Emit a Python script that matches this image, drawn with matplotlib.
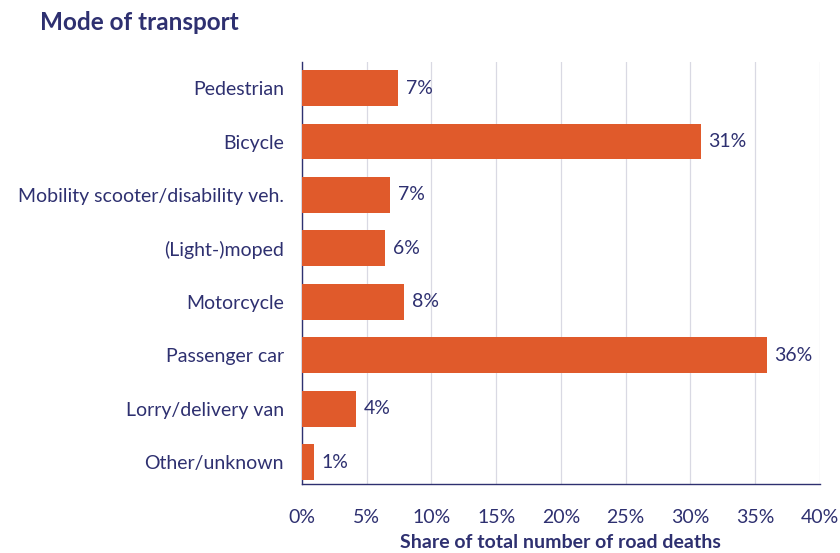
import matplotlib
matplotlib.use("Agg")
import matplotlib.pyplot as plt

plt.rcParams['font.family'] = ['Lato', 'DejaVu Sans']

categories = ["Pedestrian", "Bicycle", "Mobility scooter/disability veh.",
              "(Light-)moped", "Motorcycle", "Passenger car",
              "Lorry/delivery van", "Other/unknown"]
shares = [7.4, 30.8, 6.8, 6.4, 7.9, 35.9, 4.2, 0.9]
xticks = [0, 5, 10, 15, 20, 25, 30, 35, 40]

navy = "#2e3070"
orange = "#e05a2b"

fig = plt.figure(figsize=(8.4, 5.53), dpi=100)
ax = fig.add_axes([0.3595, 0.1248, 0.6165, 0.7632])

y = list(range(len(categories)))
ax.barh(y, shares, height=0.67, color=orange, zorder=3)
for yi, v in zip(y, shares):
    ax.text(v + 0.6, yi, f"{v:.0f}%", va="center", ha="left",
            fontsize=14, color=navy)

ax.set_xlim(0, 40)
ax.set_ylim(7.41, -0.49)
ax.set_xticks(xticks)
ax.set_xticklabels([f"{t}%" for t in xticks], fontsize=14, color=navy)
ax.set_yticks(y)
ax.set_yticklabels(categories, fontsize=14, color=navy)
ax.tick_params(axis="y", length=0, pad=13)
ax.tick_params(axis="x", length=0, pad=18)
ax.grid(axis="x", color="#d9d9e3", linewidth=0.9, zorder=0)
for s in ["top", "right"]:
    ax.spines[s].set_visible(False)
for s in ["left", "bottom"]:
    ax.spines[s].set_color(navy)
    ax.spines[s].set_linewidth(1.0)

ax.set_xlabel("Share of total number of road deaths", fontsize=14,
              fontweight="bold", color=navy, labelpad=6)
fig.text(40 / 840, 1 - 22 / 553, "Mode of transport", fontsize=17.5,
         fontweight="bold", color=navy, va="center", ha="left")

fig.savefig("out.png", dpi=100)
